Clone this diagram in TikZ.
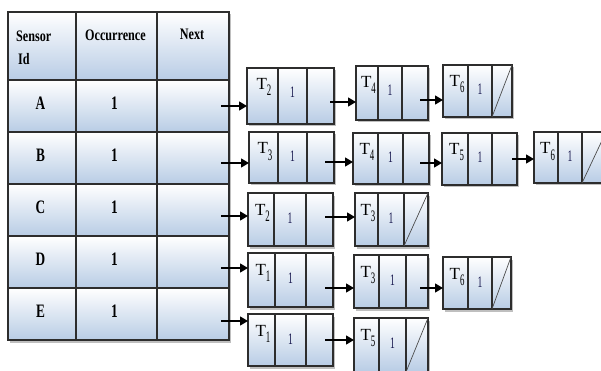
\documentclass[tikz,border=0pt]{standalone}
\usepackage{fontspec}
\usepackage{graphicx}
\setmainfont{Liberation Serif}
\usetikzlibrary{arrows.meta}
\definecolor{cellblue}{RGB}{184,204,229}
\definecolor{edgec}{RGB}{45,45,45}
\definecolor{numblue}{RGB}{20,20,75}
\tikzset{
 cell/.style={draw=edgec, line width=1.3pt, top color=white, bottom color=cellblue, inner sep=0pt, outer sep=0pt, anchor=north west},
 shadowbox/.style={fill=black!25},
 arr/.style={draw=black, line width=1.3pt, -{Triangle[length=8pt,width=9pt]}},
 slashline/.style={draw=black!70, line width=0.7pt},
 hdr/.style={anchor=base, inner sep=0pt, font=\fontsize{16}{16}\selectfont\bfseries},
 body/.style={anchor=base, inner sep=0pt, font=\fontsize{19}{19}\selectfont\bfseries},
 tl/.style={anchor=base, inner sep=0pt, font=\fontsize{17}{17}\selectfont},
 vl/.style={anchor=base, inner sep=0pt, text=numblue, font=\fontsize{16}{16}\selectfont},
}
% list node: name, x0, c1, c2, x1, y0, y1, subscript, slash
\newcommand\lnode[9]{%
 \fill[shadowbox] ({#2+1.5},{#6+2.5}) rectangle ({#5+1.5},{#7+2.5});
 \node[cell, minimum width={(#3-#2)*1pt}, minimum height={(#7-#6)*1pt}] (#1c1) at (#2,#6) {};
 \node[cell, minimum width={(#4-#3)*1pt}, minimum height={(#7-#6)*1pt}] (#1c2) at (#3,#6) {};
 \node[cell, minimum width={(#5-#4)*1pt}, minimum height={(#7-#6)*1pt}] (#1c3) at (#4,#6) {};
 \node[tl] (#1t) at ({(#2+#3)/2+1.5},{#6+22}) {T\raisebox{-6pt}{\fontsize{16}{16}\selectfont\scalebox{0.55}[1]{#8}}};
 \node[vl] (#1v) at ({(#3+#4)/2},{#6+30}) {\scalebox{0.6}[1]{1}};
 \ifnum#9=1 \draw[slashline] (#4,#7) -- (#5,#6);\fi
}
% table cell: name, x0, x1, y0, y1
\newcommand\tcell[5]{%
 \node[cell, minimum width={(#3-#2)*1pt}, minimum height={(#5-#4)*1pt}] (#1) at (#2,#4) {};
}
\begin{document}
\begin{tikzpicture}[x=1pt,y=-1pt]
\useasboundingbox (0,0) rectangle (601,371);
% table
\fill[shadowbox] (9.5,14.5) rectangle (231,342.5);
\tcell{h1}{8}{76}{12}{80}\tcell{h2}{76}{157}{12}{80}\tcell{h3}{157}{229}{12}{80}
\tcell{ra1}{8}{76}{80}{132}\tcell{ra2}{76}{157}{80}{132}\tcell{ra3}{157}{229}{80}{132}
\tcell{rb1}{8}{76}{132}{184}\tcell{rb2}{76}{157}{132}{184}\tcell{rb3}{157}{229}{132}{184}
\tcell{rc1}{8}{76}{184}{236}\tcell{rc2}{76}{157}{184}{236}\tcell{rc3}{157}{229}{184}{236}
\tcell{rd1}{8}{76}{236}{288}\tcell{rd2}{76}{157}{236}{288}\tcell{rd3}{157}{229}{236}{288}
\tcell{re1}{8}{76}{288}{340}\tcell{re2}{76}{157}{288}{340}\tcell{re3}{157}{229}{288}{340}
\node[hdr, anchor=base west] (hs) at (16,41.5) {\scalebox{0.76}[1]{Sensor}};
\node[hdr, anchor=base west] (hi) at (18,65) {\scalebox{0.76}[1]{Id}};
\node[hdr] (ho) at (115.5,40.5) {\scalebox{0.76}[1]{Occurrence}};
\node[hdr] (hn) at (192,40) {\scalebox{0.76}[1]{Next}};
\node[body] (ta) at (40.5,110) {\scalebox{0.7}[1]{A}};
\node[body] (tb) at (40.5,162) {\scalebox{0.7}[1]{B}};
\node[body] (tc) at (40.5,213.5) {\scalebox{0.7}[1]{C}};
\node[body] (td) at (40.5,265.5) {\scalebox{0.7}[1]{D}};
\node[body] (te) at (40.5,317) {\scalebox{0.7}[1]{E}};
\node[body] (oa) at (114.5,110) {\scalebox{0.7}[1]{1}};
\node[body] (ob) at (114.5,162) {\scalebox{0.7}[1]{1}};
\node[body] (oc) at (114.5,213.5) {\scalebox{0.7}[1]{1}};
\node[body] (od) at (114.5,265.5) {\scalebox{0.7}[1]{1}};
\node[body] (oe) at (114.5,317) {\scalebox{0.7}[1]{1}};
% list nodes
\lnode{a1}{247}{278}{307}{334}{68}{124}{2}{0}
\lnode{a2}{356}{378}{402}{428}{66}{120}{4}{0}
\lnode{a3}{443}{468}{492}{512}{65}{117}{6}{1}
\lnode{b1}{249}{278}{307}{334}{132}{183}{3}{0}
\lnode{b2}{353}{378}{403}{429}{133}{184}{4}{0}
\lnode{b3}{442}{468}{492}{517}{133}{185}{5}{0}
\lnode{b4}{534}{558}{582}{606}{132}{183}{6}{1}
\lnode{c1}{248}{274}{306}{333}{193}{246}{2}{0}
\lnode{c2}{355}{378}{404}{428}{193}{246}{3}{1}
\lnode{d1}{248}{275}{306}{333}{253}{307}{1}{0}
\lnode{d2}{354}{379}{406}{428}{255}{308}{3}{0}
\lnode{d3}{443}{468}{492}{511}{257}{309}{6}{1}
\lnode{e1}{248}{275}{306}{333}{314}{366}{1}{0}
\lnode{e2}{354}{379}{406}{428}{318}{372}{5}{1}
% arrow starts
\coordinate (sA) at (221,106);
\coordinate (sB) at (221,163);
\coordinate (sC) at (221,216);
\coordinate (sD) at (221,268);
\coordinate (sE) at (221,321);
\coordinate (sa1) at (330,102);
\coordinate (sa2) at (420,100);
\coordinate (sb1) at (325,162);
\coordinate (sb2) at (420,163);
\coordinate (sb3) at (512,159);
\coordinate (sc1) at (325,217);
\coordinate (sd1) at (325,288);
\coordinate (sd2) at (420,288);
\coordinate (se1) at (325,340);
\draw[arr] (sA) -- (sA -| a1c1.west);
\draw[arr] (sB) -- (sB -| b1c1.west);
\draw[arr] (sC) -- (sC -| c1c1.west);
\draw[arr] (sD) -- (sD -| d1c1.west);
\draw[arr] (sE) -- (sE -| e1c1.west);
\draw[arr] (sa1) -- (sa1 -| a2c1.west);
\draw[arr] (sa2) -- (sa2 -| a3c1.west);
\draw[arr] (sb1) -- (sb1 -| b2c1.west);
\draw[arr] (sb2) -- (sb2 -| b3c1.west);
\draw[arr] (sb3) -- (sb3 -| b4c1.west);
\draw[arr] (sc1) -- (sc1 -| c2c1.west);
\draw[arr] (sd1) -- (sd1 -| d2c1.west);
\draw[arr] (sd2) -- (sd2 -| d3c1.west);
\draw[arr] (se1) -- (se1 -| e2c1.west);
\end{tikzpicture}
\end{document}
